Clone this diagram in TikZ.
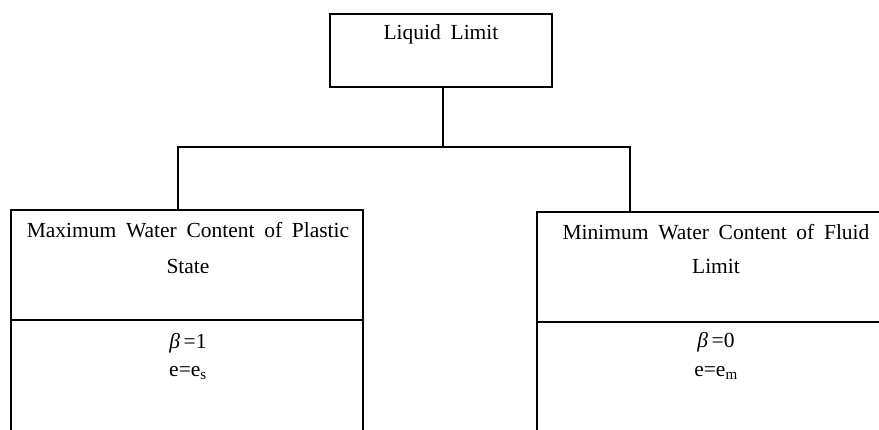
\documentclass[tikz,border=0pt]{standalone}
\usepackage{fontspec}
\setmainfont[WordSpace=1.8]{Liberation Serif}
\begin{document}
\begin{tikzpicture}[x=1pt,y=-1pt,
  boxs/.style={draw,line width=1.6pt,rectangle,inner sep=0pt},
  lbl/.style={inner sep=0pt,font=\fontsize{21.5}{25}\selectfont},
  conn/.style={line width=1.6pt}]
\useasboundingbox (0,0) rectangle (879,429);
\clip (0,0) rectangle (879,429);
% top box
\node[boxs,minimum width=222pt,minimum height=73pt] (top) at (441,50.5) {};
\draw[line width=1.4pt] ([xshift=1.5pt]top.north west) -- ([xshift=1.5pt]top.south west);
\node[lbl] (toptxt) at (441,34) {Liquid Limit};
% left boxes
\node[boxs,minimum width=352pt,minimum height=110pt] (lup) at (187,265) {};
\node[boxs,minimum width=352pt,minimum height=130pt] (llo) at (187,385) {};
\node[lbl] (lt1) at (188,230) {Maximum Water Content of Plastic};
\node[lbl] (lt2) at (188,266) {State};
\node[lbl] (lt3) at (188,343) {\textit{β}\,=1};
\node[lbl] (lt4) at (188,373) {e=e\textsubscript{s}};
% right boxes
\node[boxs,minimum width=352pt,minimum height=110pt] (rup) at (713,267) {};
\node[boxs,minimum width=352pt,minimum height=130pt] (rlo) at (713,387) {};
\node[lbl] (rt1) at (716,232) {Minimum Water Content of Fluid};
\node[lbl] (rt2) at (716,266) {Limit};
\node[lbl] (rt3) at (716,342) {\textit{β}\,=0};
\node[lbl] (rt4) at (716,373) {e=e\textsubscript{m}};
% connectors
\coordinate (j) at (443,147);
\coordinate (jl) at (178,147);
\coordinate (jr) at (630,147);
\draw[conn] (top.south -| j) -- (j);
\draw[conn] (jl |- lup.north) -- (jl) -- (jr) -- (jr |- rup.north);
\end{tikzpicture}
\end{document}
